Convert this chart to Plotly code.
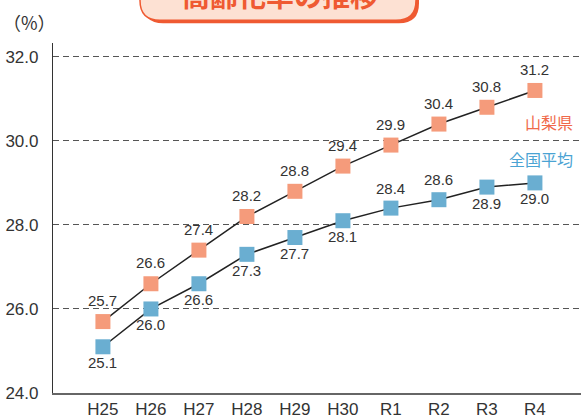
import plotly.graph_objects as go

categories = ["H25", "H26", "H27", "H28", "H29", "H30", "R1", "R2", "R3", "R4"]
yamanashi = [25.7, 26.6, 27.4, 28.2, 28.8, 29.4, 29.9, 30.4, 30.8, 31.2]
national = [25.1, 26.0, 26.6, 27.3, 27.7, 28.1, 28.4, 28.6, 28.9, 29.0]
national_label_above = [False, False, False, False, False, False, True, True, False, False]
y_ticks = [24, 26, 28, 30, 32]

W, H = 581, 419
ML, MR, MT, MB = 53, 0, 43, 22
PW, PH = W - ML - MR, H - MT - MB

def px(x):
    return (x - ML) / PW

def py(y):
    return (H - MB - y) / PH

def rounded_rect(x0, y0, x1, y1, r):
    pts = [
        f"M {px(x0 + r)},{py(y0)}",
        f"L {px(x1 - r)},{py(y0)}",
        f"Q {px(x1)},{py(y0)} {px(x1)},{py(y0 + r)}",
        f"L {px(x1)},{py(y1 - r)}",
        f"Q {px(x1)},{py(y1)} {px(x1 - r)},{py(y1)}",
        f"L {px(x0 + r)},{py(y1)}",
        f"Q {px(x0)},{py(y1)} {px(x0)},{py(y1 - r)}",
        f"L {px(x0)},{py(y0 + r)}",
        f"Q {px(x0)},{py(y0)} {px(x0 + r)},{py(y0)}",
        "Z",
    ]
    return " ".join(pts)

ORANGE = "#f59b7b"
BLUE = "#6aaed1"
TXT = "#333333"
LATIN = "Liberation Sans, Arial, sans-serif"
CJK = "Noto Sans CJK JP, sans-serif"

fig = go.Figure()
fig.add_trace(go.Scatter(
    x=categories, y=yamanashi, mode="lines+markers",
    line=dict(color="#222222", width=1.5),
    marker=dict(symbol="square", size=15, color=ORANGE),
    showlegend=False, hoverinfo="skip"))
fig.add_trace(go.Scatter(
    x=categories, y=national, mode="lines+markers",
    line=dict(color="#222222", width=1.5),
    marker=dict(symbol="square", size=15, color=BLUE),
    showlegend=False, hoverinfo="skip"))

annotations = []
for c, v in zip(categories, yamanashi):
    annotations.append(dict(x=c, y=v, text=f"{v:.1f}", showarrow=False, yshift=21,
                            font=dict(size=15, color=TXT, family=LATIN)))
for c, v, up in zip(categories, national, national_label_above):
    annotations.append(dict(x=c, y=v, text=f"{v:.1f}", showarrow=False,
                            yshift=20 if up else -16,
                            font=dict(size=15, color=TXT, family=LATIN)))

annotations.append(dict(xref="paper", yref="paper", x=px(575), y=py(123), xanchor="right",
                        yanchor="middle", text="山梨県", showarrow=False,
                        font=dict(size=16, color="#f0694a", family=CJK)))
annotations.append(dict(xref="paper", yref="paper", x=px(575), y=py(160), xanchor="right",
                        yanchor="middle", text="全国平均", showarrow=False,
                        font=dict(size=16, color="#4aa3d3", family=CJK)))
annotations.append(dict(xref="paper", yref="paper", x=px(29), y=py(22), xanchor="center",
                        yanchor="middle", text="（%）", showarrow=False,
                        font=dict(size=18, color=TXT, family=CJK)))
annotations.append(dict(xref="paper", yref="paper", x=px(280), y=py(-6), xanchor="center",
                        yanchor="middle", text="<b>高齢化率の推移</b>", showarrow=False,
                        font=dict(size=28, color="#ef5a32", family=CJK)))

shapes = [
    dict(type="path", xref="paper", yref="paper", path=rounded_rect(143, -40, 419, 23, 20),
         fillcolor="#ef5a32", line=dict(width=0), layer="above"),
    dict(type="path", xref="paper", yref="paper", path=rounded_rect(140, -40, 416, 20, 20),
         fillcolor="#fde1d3", line=dict(color="#ef5a32", width=1.5), layer="above"),
]

fig.update_layout(
    width=W, height=H,
    margin=dict(l=ML, r=MR, t=MT, b=MB, pad=0),
    paper_bgcolor="white", plot_bgcolor="white",
    annotations=annotations, shapes=shapes,
    font=dict(family=LATIN, color=TXT),
    xaxis=dict(type="category", range=[-1.04, 9.96], showgrid=False, zeroline=False,
               showline=True, linecolor="#666666", linewidth=1.5, ticks="",
               tickfont=dict(size=17, color=TXT, family=LATIN), fixedrange=True),
    yaxis=dict(range=[24, 24 + PH / 42.5], tickvals=y_ticks,
               ticktext=[f"{t:.1f}" for t in y_ticks],
               showgrid=True, gridcolor="#555555", griddash="6px,4px", gridwidth=1,
               zeroline=False, showline=True, linecolor="#333333", linewidth=1.2,
               ticks="", ticklabelstandoff=10,
               tickfont=dict(size=17, color=TXT, family=LATIN), fixedrange=True),
)

fig.write_html("out.html", config={"displayModeBar": False},
               post_script="document.body.style.margin='0px';document.body.style.overflow='hidden';")
